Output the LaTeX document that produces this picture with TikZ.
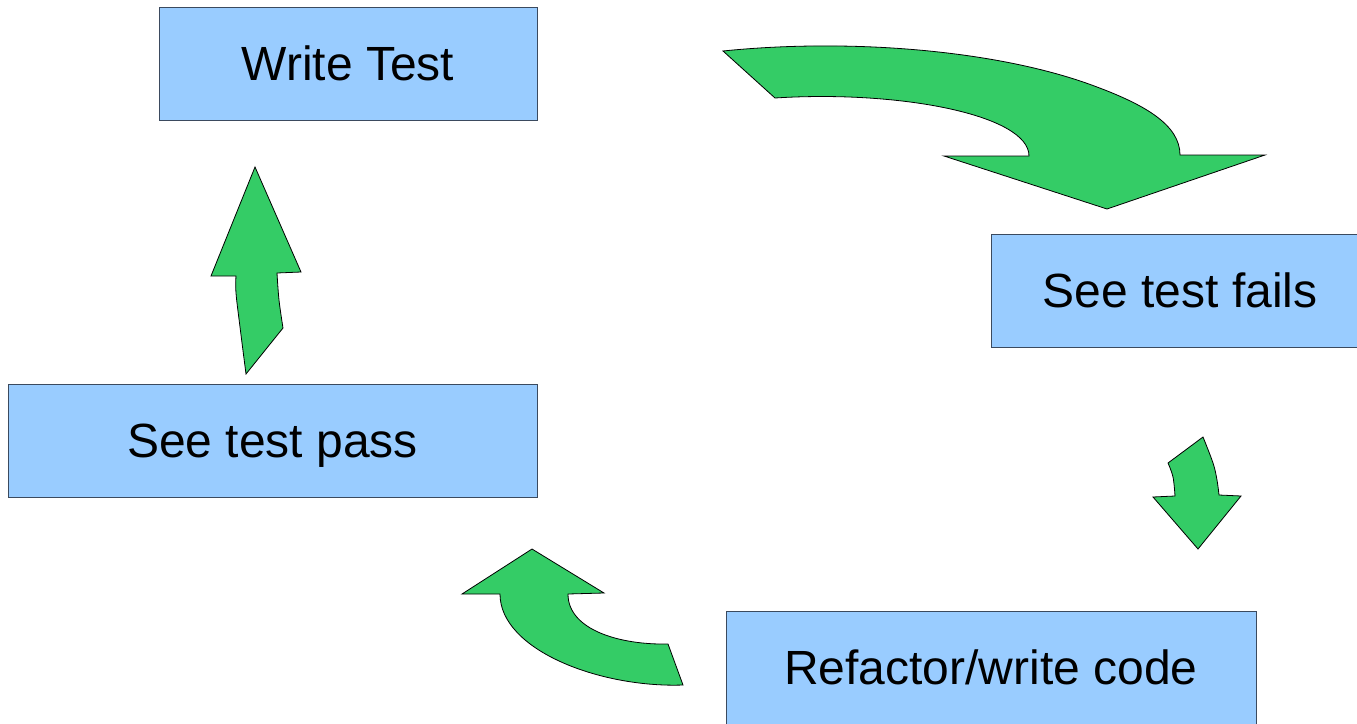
\documentclass[tikz,border=0pt]{standalone}
\usepackage{fontspec}
\setmainfont{Liberation Sans}
\definecolor{boxfill}{HTML}{99CCFF}
\definecolor{boxline}{HTML}{3B4A5E}
\definecolor{arrowgreen}{HTML}{34CC66}
\tikzset{
  stepbox/.style={rectangle, draw=boxline, fill=boxfill, line width=1pt,
    inner sep=0pt, text height=34pt, text depth=0pt,
    font=\fontsize{48}{58}\selectfont},
  blockarrow/.style={draw=black, fill=arrowgreen, line width=0.8pt, line join=miter},
  curve/.style={smooth, tension=0.6}
}
\begin{document}
\begin{tikzpicture}[x=1pt, y=-1pt]
  \useasboundingbox (0,0) rectangle (1357,723);
  \clip (0,0) rectangle (1357,723);

  % the four stages of the cycle
  \node[stepbox, minimum width=378, minimum height=113] (write) at (348,63.5) {Write Test};
  \node[stepbox, minimum width=378, minimum height=113] (fails) at (1180,290.5) {See test fails};
  \node[stepbox, minimum width=530, minimum height=113] (code) at (991,667.5) {Refactor/write code};
  \node[stepbox, minimum width=529, minimum height=113] (pass) at (272.5,440.5) {See test pass};

  % curved block arrow: Write Test -> See test fails
  \draw[blockarrow]
    (723,51) .. controls (850,38) and (1000,50) .. (1097,87)
             .. controls (1145,105) and (1180,125) .. (1180,155)
    -- (1265,155) -- (1107,209) -- (944,156) -- (1029,156)
    .. controls (1029,115) and (900,90) .. (775,98)
    -- cycle;

  % short block arrow: See test fails -> Refactor/write code
  \draw[blockarrow]
    (1203,437) -- (1168,463)
    -- plot[curve] coordinates {(1168,463) (1173,477) (1175,496)}
    -- (1153,497) -- (1198,549) -- (1241,496) -- (1219,495)
    -- plot[curve] coordinates {(1219,495) (1217,480) (1213,463) (1203,437)}
    -- cycle;

  % curved block arrow: Refactor/write code -> See test pass
  \draw[blockarrow]
    (532,549) -- (604,593) -- (568,594)
    .. controls (568,630) and (620,645) .. (668,644)
    -- (683,685)
    .. controls (600,688) and (500,650) .. (500,594)
    -- (462,594) -- cycle;

  % upward block arrow: See test pass -> Write Test
  \draw[blockarrow]
    (255,167) -- (301,272) -- (277,273)
    -- plot[curve] coordinates {(277,273) (279,300) (283,328)}
    -- (246,374)
    -- plot[curve] coordinates {(246,374) (240,327) (236,293) (236,276)}
    -- (211,276) -- cycle;
\end{tikzpicture}
\end{document}
